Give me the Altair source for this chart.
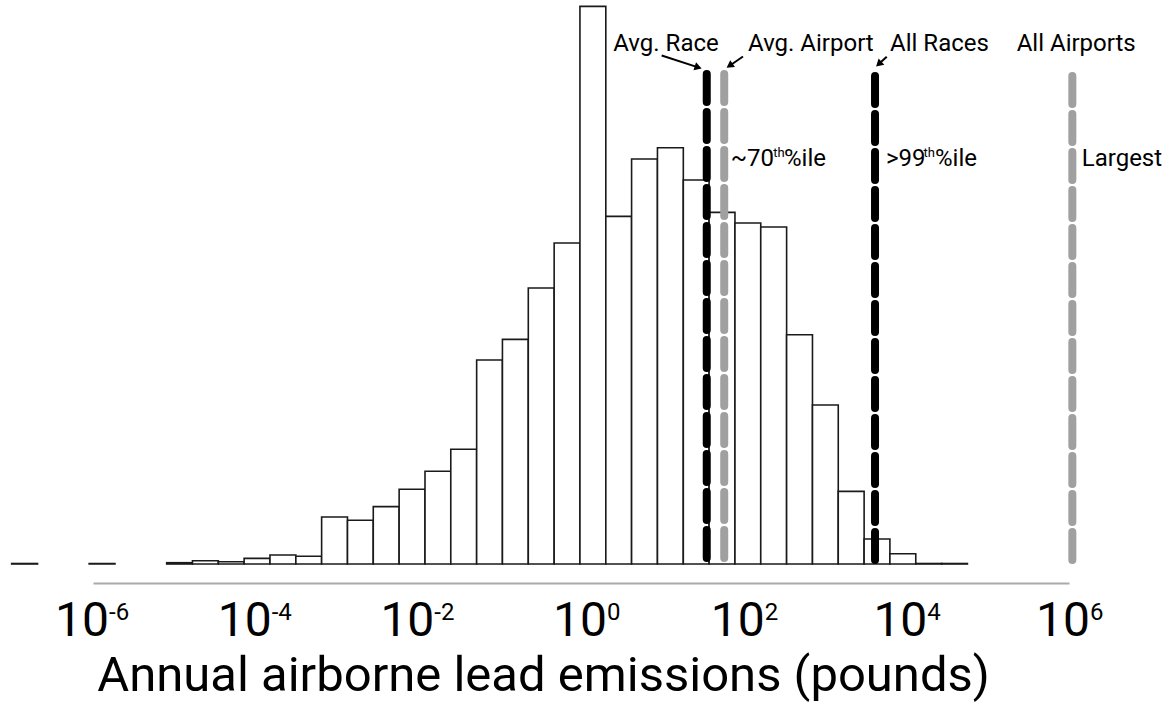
import altair as alt
import pandas as pd

# histogram bins (log10 of pounds) and bar heights
bin_lo = [-7.000, -6.682, -6.365, -6.047, -5.730, -5.412, -5.094, -4.777, -4.459,
          -4.142, -3.824, -3.506, -3.189, -2.871, -2.554, -2.236, -1.918, -1.601,
          -1.283, -0.966, -0.648, -0.330, -0.013, 0.305, 0.622, 0.940, 1.258,
          1.575, 1.893, 2.210, 2.528, 2.846, 3.163, 3.481, 3.798, 4.116, 4.434]
bin_hi = bin_lo[1:] + [4.751]
counts = [0.5, 0, 0, 0.5, 0, 0, 1.3, 3.3, 2.3, 5.6, 9, 7.7, 47, 43.7, 57.4,
          74.7, 92.7, 114.7, 204, 224.6, 276, 321, 557.6, 347.6, 405, 416.3,
          384, 351.6, 341, 337, 229.3, 159, 72.6, 25, 10.3, 0.5, 0.5]

# reference lines (log10 pounds)
ref_names = ["Avg. Race", "Avg. Airport", "All Races", "All Airports"]
ref_kind = ["race", "airport", "race", "airport"]
ref_log = [1.546, 1.761, 3.615, 6.041]
ref_top = [490, 490, 488, 488]

tick_exp = [-6, -4, -2, 0, 2, 4, 6]

bars_df = pd.DataFrame({"lo": bin_lo, "hi": bin_hi, "n": counts})
bars_df = bars_df[bars_df.n > 0]

ref_df = pd.DataFrame({"name": ref_names, "kind": ref_kind, "x": ref_log,
                       "top": ref_top, "bottom": [0] * 4})

ticks_df = pd.DataFrame({"e": tick_exp, "base": ["10"] * len(tick_exp),
                         "sup": [str(e) for e in tick_exp]})

FONT = "Roboto"
xscale = alt.Scale(domain=[-6, 6], nice=False, zero=False)
yscale = alt.Scale(domain=[0, 557], nice=False, zero=True)

xaxis = alt.Axis(title="Annual airborne lead emissions (pounds)", labels=False,
                 ticks=False, grid=False, domainColor="#aaaaaa", domainWidth=2,
                 offset=19, titleFont=FONT, titleFontSize=49,
                 titleFontWeight="normal", titleColor="black", titleX=3.7,
                 titleY=107.5, titleAlign="left", titleBaseline="alphabetic",
                 titleAnchor="start")

bars = alt.Chart(bars_df).mark_rect(fill="white", stroke="#1a1a1a",
                                    strokeWidth=1.6).encode(
    x=alt.X("lo:Q", scale=xscale, axis=xaxis),
    x2="hi:Q",
    y=alt.Y("n:Q", scale=yscale, axis=None),
    y2=alt.datum(0),
)

color_scale = alt.Scale(domain=["race", "airport"], range=["#000000", "#a0a0a0"])

rules = alt.Chart(ref_df).mark_rule(strokeWidth=8, strokeCap="round",
                                    strokeDash=[28, 10]).encode(
    x="x:Q",
    y="top:Q",
    y2="bottom:Q",
    color=alt.Color("kind:N", scale=color_scale, legend=None),
)

# arrows (shaft start -> head) for the three labelled means
arrow_df = pd.DataFrame({
    "x0": [0.992, 1.992, 3.759], "y0": [508.5, 507.5, 507.3],
    "x1": [1.441, 1.827, 3.661], "y1": [496.6, 498.3, 499.9],
    "ang": [108, 235.5, 227.3],
})
shafts = alt.Chart(arrow_df).mark_rule(color="black", strokeWidth=2).encode(
    x="x0:Q", y="y0:Q", x2="x1:Q", y2="y1:Q")
heads = alt.Chart(arrow_df).mark_point(shape="triangle-up", filled=True,
                                       color="black", size=70, opacity=1).encode(
    x="x1:Q", y="y1:Q", angle=alt.Angle("ang:Q", scale=None))

ann_df = pd.DataFrame({
    "t": ["Avg. Race", "Avg. Airport", "All Races", "All Airports",
          "~70", "%ile", ">99", "%ile", "Largest"],
    "x": [0.397, 2.054, 3.80, 5.357, 1.841, 2.496, 3.750, 4.353, 6.157],
    "y": [513, 513, 513, 513, 398.3, 398.3, 398.3, 398.3, 398.3],
})
ann = alt.Chart(ann_df).mark_text(font=FONT, fontSize=24, align="left",
                                  baseline="alphabetic", color="black").encode(
    x="x:Q", y="y:Q", text="t:N")

sup_df = pd.DataFrame({"t": ["th", "th"], "x": [2.365, 4.212], "y": [407, 407]})
sups = alt.Chart(sup_df).mark_text(font=FONT, fontSize=13, align="left",
                                   baseline="alphabetic", color="black").encode(
    x="x:Q", y="y:Q", text="t:N")


def tick_layer(cond, dx):
    base = alt.Chart(ticks_df).transform_filter(cond)
    ten = base.mark_text(font=FONT, fontSize=48, align="right",
                         baseline="alphabetic", color="black", dx=dx).encode(
        x="e:Q", y=alt.value(629), text="base:N")
    ex = base.mark_text(font=FONT, fontSize=24, align="left",
                        baseline="alphabetic", color="black", dx=dx).encode(
        x="e:Q", y=alt.value(613), text="sup:N")
    return ten + ex


ticks_neg = tick_layer("datum.e < 0", 16)
ticks_zero = tick_layer("datum.e == 0", 26)
ticks_pos = tick_layer("datum.e > 0", 21)

chart = alt.layer(bars, rules, shafts, heads, ann, sups,
                  ticks_neg, ticks_zero, ticks_pos).properties(
    width=976, height=557,
    autosize=alt.AutoSizeParams(type="none"),
    padding={"left": 93, "top": 7, "right": 100, "bottom": 138},
    background="white",
).configure_view(strokeWidth=0)

chart.save("out.html", embed_options={"renderer": "svg", "actions": False})
